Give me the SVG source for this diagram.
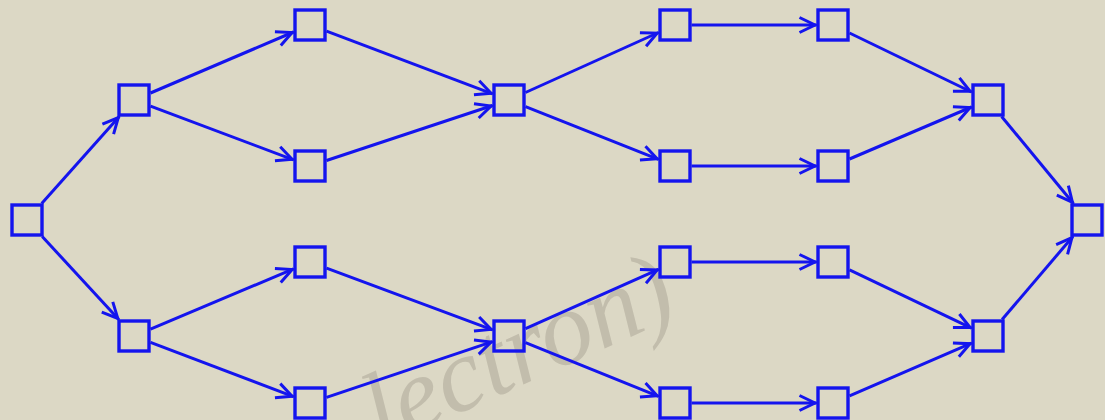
<svg xmlns="http://www.w3.org/2000/svg" width="1105" height="420" viewBox="0 0 1105 420">
<style>
.n rect{fill:none;stroke:#1414ee;stroke-width:3.4}
.e line{stroke:#1414ee;stroke-width:3;marker-end:url(#arr)}
.wm{font-family:"Liberation Serif",serif;font-style:italic;font-size:105px;fill:#c2bdac}
</style>
<defs>
<marker id="arr" viewBox="-20 -10 22 20" refX="0" refY="0" markerWidth="22" markerHeight="20" markerUnits="userSpaceOnUse" orient="auto">
<path d="M-17,-7.5 L-1.5,0 L-17,7.5" fill="none" stroke="#1414ee" stroke-width="3" stroke-linejoin="miter"/>
</marker>
</defs>
<rect x="0" y="0" width="1105" height="420" fill="#dcd8c5"/>
<text class="wm" transform="translate(381,448) rotate(-24)">lectron)</text>
<g class="e" id="edges">
<line x1="41.7" y1="203.5" x2="119.3" y2="116.5"/>
<line x1="42.2" y1="236.5" x2="118.8" y2="319.5"/>
<line x1="150.5" y1="93" x2="293.5" y2="32"/>
<line x1="150.5" y1="106.2" x2="293.5" y2="159.8"/>
<line x1="150.5" y1="329.1" x2="293.5" y2="268.9"/>
<line x1="150.5" y1="342.3" x2="293.5" y2="396.7"/>
<line x1="326.5" y1="31.2" x2="492.5" y2="93.8"/>
<line x1="326.5" y1="160.5" x2="492.5" y2="105.5"/>
<line x1="326.5" y1="268.1" x2="492.5" y2="329.9"/>
<line x1="326.5" y1="397.4" x2="492.5" y2="341.6"/>
<line x1="525.5" y1="92.5" x2="658.5" y2="32.5"/>
<line x1="525.5" y1="106.6" x2="658.5" y2="159.4"/>
<line x1="525.5" y1="328.6" x2="658.5" y2="269.4"/>
<line x1="525.5" y1="342.7" x2="658.5" y2="396.3"/>
<line x1="691.5" y1="25" x2="816.5" y2="25"/>
<line x1="691.5" y1="166" x2="816.5" y2="166"/>
<line x1="691.5" y1="262" x2="816.5" y2="262"/>
<line x1="691.5" y1="403" x2="816.5" y2="403"/>
<line x1="849.5" y1="33" x2="971.5" y2="92"/>
<line x1="849.5" y1="159" x2="971.5" y2="107"/>
<line x1="849.5" y1="269.9" x2="971.5" y2="328.1"/>
<line x1="849.5" y1="395.9" x2="971.5" y2="343.1"/>
<line x1="1001.6" y1="116.5" x2="1073.4" y2="203.5"/>
<line x1="1002.1" y1="319.5" x2="1072.9" y2="236.5"/>
</g>
<g class="n" id="n0"><rect x="12" y="205" width="30" height="30"/></g>
<g class="n" id="a1"><rect x="119" y="85" width="30" height="30"/></g>
<g class="n" id="a2"><rect x="119" y="321" width="30" height="30"/></g>
<g class="n" id="b1"><rect x="295" y="10" width="30" height="30"/></g>
<g class="n" id="b2"><rect x="295" y="151" width="30" height="30"/></g>
<g class="n" id="b3"><rect x="295" y="247" width="30" height="30"/></g>
<g class="n" id="b4"><rect x="295" y="388" width="30" height="30"/></g>
<g class="n" id="c1"><rect x="494" y="85" width="30" height="30"/></g>
<g class="n" id="c2"><rect x="494" y="321" width="30" height="30"/></g>
<g class="n" id="d1"><rect x="660" y="10" width="30" height="30"/></g>
<g class="n" id="d2"><rect x="660" y="151" width="30" height="30"/></g>
<g class="n" id="d3"><rect x="660" y="247" width="30" height="30"/></g>
<g class="n" id="d4"><rect x="660" y="388" width="30" height="30"/></g>
<g class="n" id="e1"><rect x="818" y="10" width="30" height="30"/></g>
<g class="n" id="e2"><rect x="818" y="151" width="30" height="30"/></g>
<g class="n" id="e3"><rect x="818" y="247" width="30" height="30"/></g>
<g class="n" id="e4"><rect x="818" y="388" width="30" height="30"/></g>
<g class="n" id="f1"><rect x="973" y="85" width="30" height="30"/></g>
<g class="n" id="f2"><rect x="973" y="321" width="30" height="30"/></g>
<g class="n" id="g"><rect x="1072" y="205" width="30" height="30"/></g>
</svg>
